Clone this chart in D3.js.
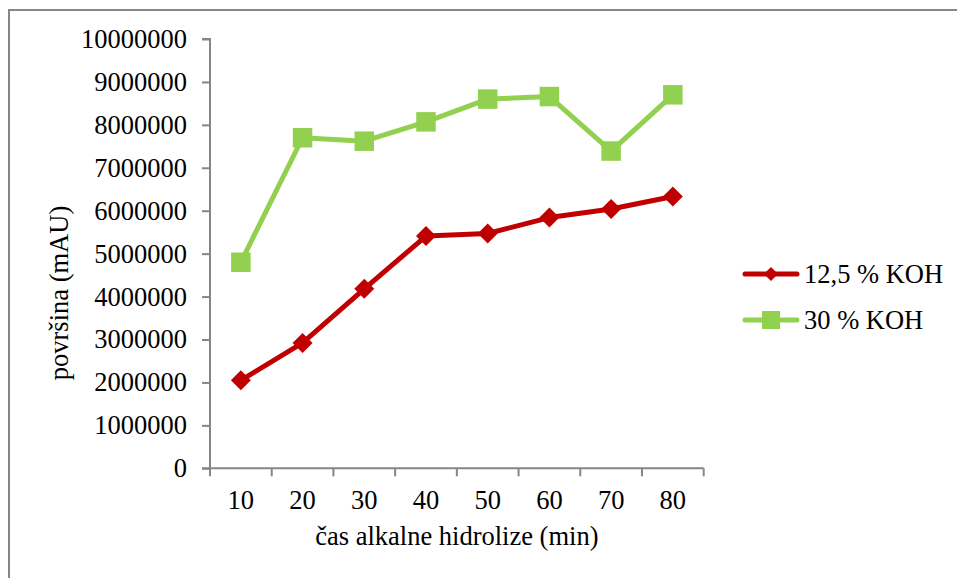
<!DOCTYPE html>
<html>
<head>
<meta charset="utf-8">
<script src="https://cdn.jsdelivr.net/npm/d3@7"></script>
<style>
  html, body { margin: 0; padding: 0; background: #fff; }
  svg { display: block; }
</style>
</head>
<body>
<script>
// Hydrolysis time (min) and measured peak area (mAU) per KOH concentration
const times = [10, 20, 30, 40, 50, 60, 70, 80];
const koh125 = [2050000, 2920000, 4180000, 5410000, 5470000, 5840000, 6040000, 6330000];
const koh30 = [4800000, 7700000, 7620000, 8070000, 8600000, 8660000, 7390000, 8700000];
const yTicks = [0, 1000000, 2000000, 3000000, 4000000, 5000000, 6000000, 7000000, 8000000, 9000000, 10000000];
const seriesNames = ["12,5 % KOH", "30 % KOH"];
const seriesColors = ["#C00000", "#92D050"];

const W = 957, H = 578;
const fontSize = 26.5;
const fontFamily = "'Liberation Serif', 'Times New Roman', serif";
const axisColor = "#868686";

const svg = d3.select("body").append("svg")
  .attr("width", W).attr("height", H)
  .style("font-family", fontFamily);

// outer chart frame
svg.append("rect")
  .attr("x", 9).attr("y", 10)
  .attr("width", W + 20).attr("height", H + 20)
  .attr("fill", "none").attr("stroke", axisColor).attr("stroke-width", 2);

const plot = { left: 210, right: 703.7, top: 39, bottom: 468.3 };

const x = d3.scaleBand().domain(times).range([plot.left, plot.right]).padding(0);
const y = d3.scaleLinear().domain([0, 10000000]).range([plot.bottom, plot.top]);

function styleText(sel) {
  sel.style("font-size", fontSize + "px").style("font-family", fontFamily).attr("fill", "#000");
}

// y axis
const yAxis = svg.append("g")
  .attr("transform", `translate(${plot.left},0)`)
  .call(d3.axisLeft(y).tickValues(yTicks).tickFormat(d3.format("d")).tickSize(8).tickPadding(15));
yAxis.select(".domain").attr("stroke", axisColor).attr("stroke-width", 2)
  .attr("d", `M-8,${plot.top}H0V${plot.bottom}`);
yAxis.selectAll(".tick line").attr("stroke", axisColor).attr("stroke-width", 2);
yAxis.selectAll(".tick text").call(styleText);

// x axis: labels centred in each category, tick marks on category boundaries
const xAxis = svg.append("g")
  .attr("transform", `translate(0,${plot.bottom})`)
  .call(d3.axisBottom(x).tickSize(0).tickPadding(22));
xAxis.select(".domain").remove();
xAxis.selectAll(".tick line").remove();
xAxis.selectAll(".tick text").call(styleText);

const xBounds = times.map(t => x(t)).concat([x(times[times.length - 1]) + x.bandwidth()]);
svg.append("line")
  .attr("x1", plot.left - 8).attr("x2", plot.right)
  .attr("y1", plot.bottom).attr("y2", plot.bottom)
  .attr("stroke", axisColor).attr("stroke-width", 2);
svg.append("g").selectAll("line").data(xBounds).join("line")
  .attr("x1", d => d).attr("x2", d => d)
  .attr("y1", plot.bottom).attr("y2", plot.bottom + 8)
  .attr("stroke", axisColor).attr("stroke-width", 2);

// axis titles
svg.append("text")
  .attr("x", (plot.left + plot.right) / 2).attr("y", 545)
  .attr("text-anchor", "middle")
  .call(styleText)
  .text("čas alkalne hidrolize (min)");

svg.append("text")
  .attr("transform", "translate(68,293) rotate(-90)")
  .attr("text-anchor", "middle")
  .call(styleText)
  .text("površina (mAU)");

// series
const cx = t => x(t) + x.bandwidth() / 2;
const line = d3.line().x(d => cx(d.t)).y(d => y(d.v));
const allSeries = [koh125, koh30].map((vals, i) => ({
  name: seriesNames[i],
  color: seriesColors[i],
  points: times.map((t, j) => ({ t, v: vals[j] }))
}));

const diamond = d3.symbol().type(d3.symbolSquare).size(200)();
const square = d3.symbol().type(d3.symbolSquare).size(380)();

// draw the 30 % series first so the 12,5 % series sits on top
[1, 0].forEach(i => {
  const s = allSeries[i];
  svg.append("path")
    .datum(s.points)
    .attr("fill", "none")
    .attr("stroke", s.color)
    .attr("stroke-width", 5)
    .attr("stroke-linejoin", "round")
    .attr("d", line);
  svg.append("g").selectAll("path").data(s.points).join("path")
    .attr("d", i === 0 ? diamond : square)
    .attr("transform", d => `translate(${cx(d.t)},${y(d.v)})` + (i === 0 ? " rotate(45)" : ""))
    .attr("fill", s.color);
});

// legend
const legend = svg.append("g");
const legendRows = [274, 320];
allSeries.forEach((s, i) => {
  const ly = legendRows[i];
  legend.append("line")
    .attr("x1", 745).attr("x2", 797).attr("y1", ly).attr("y2", ly)
    .attr("stroke", s.color).attr("stroke-width", 5).attr("stroke-linecap", "round");
  legend.append("path")
    .attr("d", i === 0 ? d3.symbol().type(d3.symbolSquare).size(100)() : d3.symbol().type(d3.symbolSquare).size(324)())
    .attr("transform", `translate(771,${ly})` + (i === 0 ? " rotate(45)" : ""))
    .attr("fill", s.color);
  legend.append("text")
    .attr("x", 804).attr("y", ly + 9)
    .call(styleText)
    .text(s.name);
});
</script>
</body>
</html>
